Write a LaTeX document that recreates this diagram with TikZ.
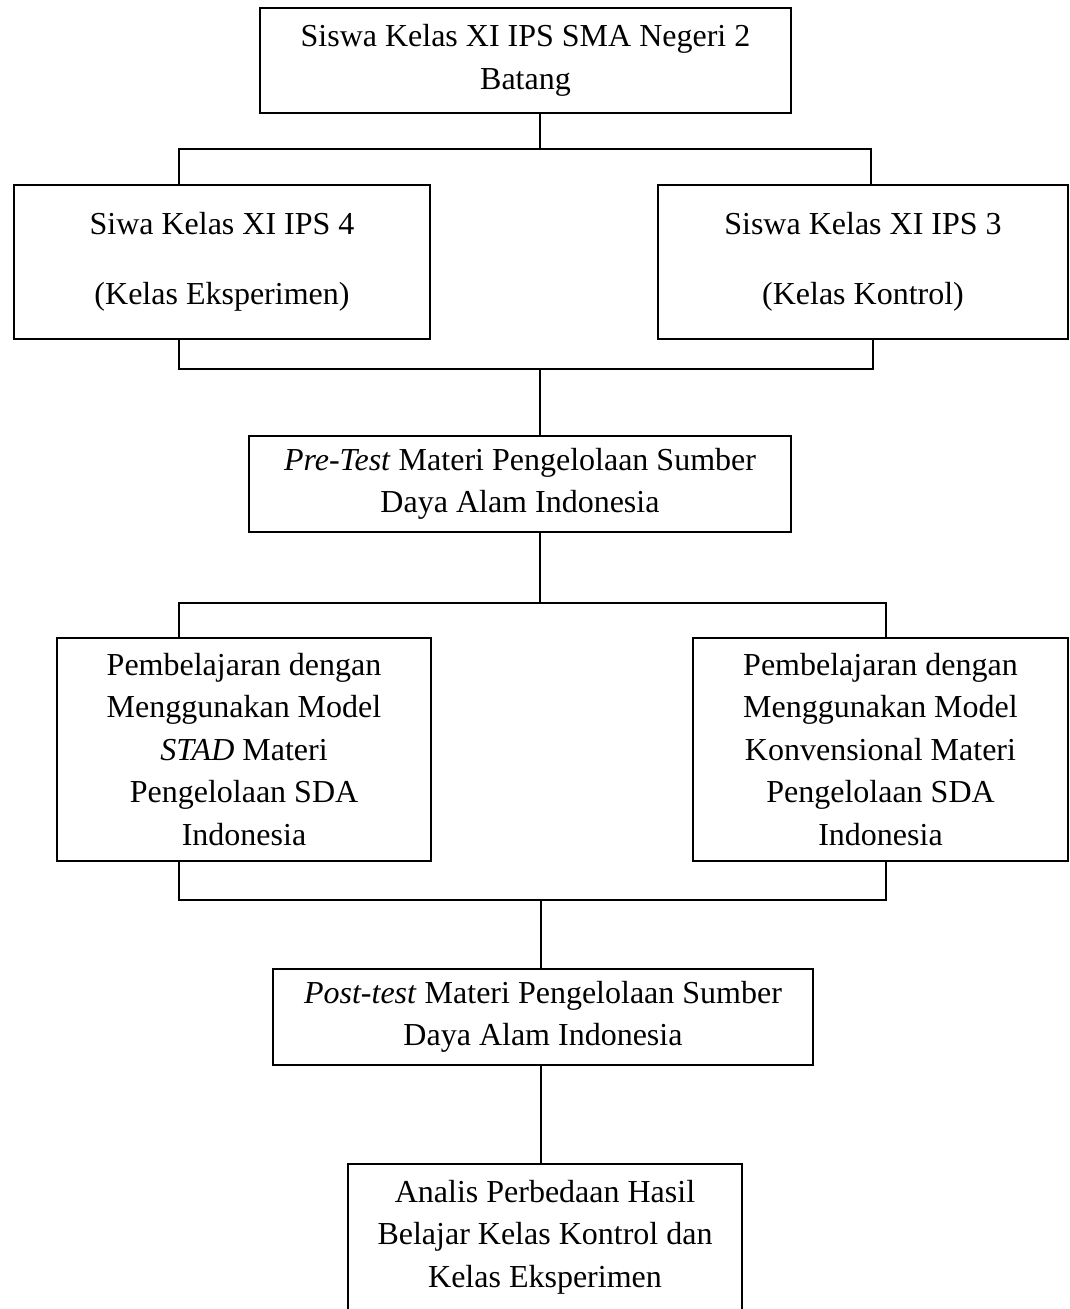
\documentclass[tikz,border=0pt]{standalone}
\usepackage{fontspec}
\setmainfont{Liberation Serif}
\begin{document}
\begin{tikzpicture}[x=1pt,y=-1pt,
  box/.style={draw, line width=1.5pt, inner sep=0pt, align=center,
    font=\fontsize{32}{42.5}\selectfont},
  link/.style={line width=1.5pt}]
\clip (0,0) rectangle (1069,1309);
\fill[white] (0,0) rectangle (1069,1309);
\node[box, minimum width=531pt, minimum height=105pt] (b1) at (525.5,60.5)
  {Siswa Kelas XI IPS SMA Negeri 2\\Batang};
\node[box, minimum width=416pt, minimum height=154pt] (b2) at (222,262)
  {Siwa Kelas XI IPS 4\\[28pt](Kelas Eksperimen)};
\node[box, minimum width=410pt, minimum height=154pt] (b3) at (863,262)
  {Siswa Kelas XI IPS 3\\[28pt](Kelas Kontrol)};
\node[box, minimum width=542pt, minimum height=96pt] (b4) at (520,484)
  {\textit{Pre-Test} Materi Pengelolaan Sumber\\Daya Alam Indonesia};
\node[box, minimum width=374pt, minimum height=223pt] (b5) at (244,749.5)
  {Pembelajaran dengan\\Menggunakan Model\\\textit{STAD} Materi\\Pengelolaan SDA\\Indonesia};
\node[box, minimum width=375pt, minimum height=223pt] (b6) at (880.5,749.5)
  {Pembelajaran dengan\\Menggunakan Model\\Konvensional Materi\\Pengelolaan SDA\\Indonesia};
\node[box, minimum width=540pt, minimum height=96pt] (b7) at (543,1017)
  {\textit{Post-test} Materi Pengelolaan Sumber\\Daya Alam Indonesia};
\node[box, minimum width=394pt, minimum height=146pt] (b8) at (545,1237)
  {Analis Perbedaan Hasil\\Belajar Kelas Kontrol dan\\Kelas Eksperimen};
% junction points
\coordinate (j1) at (540,149);
\coordinate (L1) at (179,149);
\coordinate (R1) at (871,149);
\coordinate (j2) at (540,369);
\coordinate (L2) at (179,369);
\coordinate (R2) at (873,369);
\coordinate (j3) at (540,603);
\coordinate (L3) at (179,603);
\coordinate (R3) at (886,603);
\coordinate (j4) at (541,900);
\coordinate (L4) at (179,900);
\coordinate (R4) at (886,900);
% connectors
\draw[link] (b1.south -| j1) -- (j1);
\draw[link] (b2.north -| L1) -- (L1) -- (R1) -- (b3.north -| R1);
\draw[link] (b2.south -| L2) -- (L2) -- (R2) -- (b3.south -| R2);
\draw[link] (j2) -- (b4.north -| j2);
\draw[link] (b4.south -| j3) -- (j3);
\draw[link] (b5.north -| L3) -- (L3) -- (R3) -- (b6.north -| R3);
\draw[link] (b5.south -| L4) -- (L4) -- (R4) -- (b6.south -| R4);
\draw[link] (j4) -- (b7.north -| j4);
\draw[link] (b7.south -| j4) -- (b8.north -| j4);
\end{tikzpicture}
\end{document}
